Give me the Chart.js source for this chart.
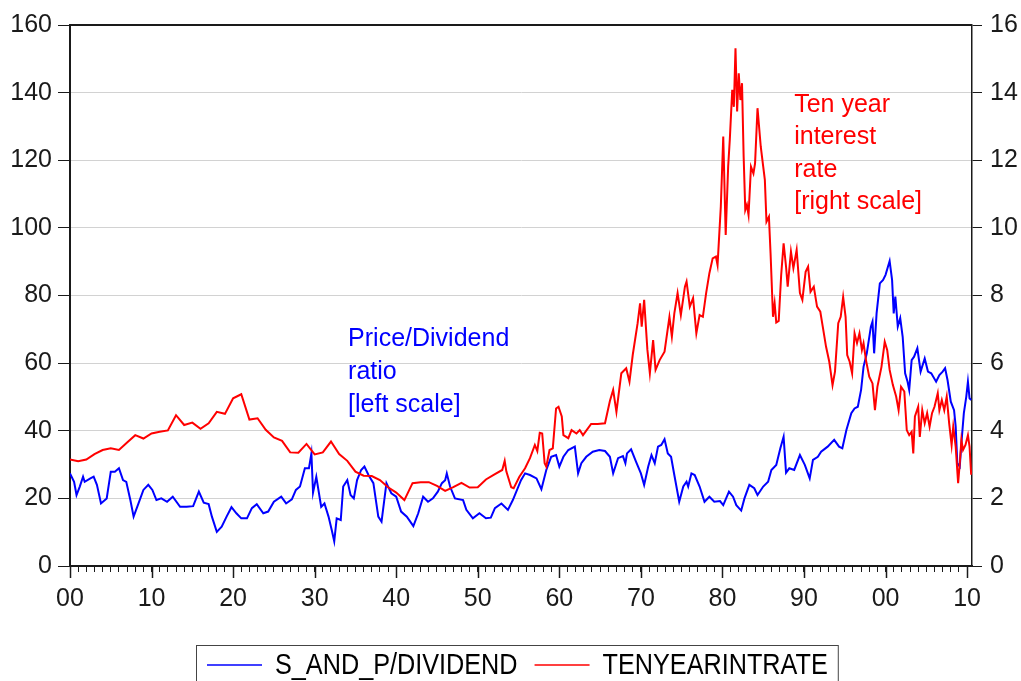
<!DOCTYPE html>
<html>
<head>
<meta charset="utf-8">
<title>S&amp;P price/dividend ratio and ten year interest rate</title>
<script src="https://cdn.jsdelivr.net/npm/chart.js@4.4.1/dist/chart.umd.min.js"></script>
<style>
  html, body { margin: 0; padding: 0; background: #fff; }
  #wrap { width: 1021px; height: 681px; }
</style>
</head>
<body>
<div id="wrap"><canvas id="chart" width="1021" height="681"></canvas></div>
<script>
// S&P price / dividend ratio (left scale), sampled in decimal years
const pdYears = [
  1900.0, 1900.5, 1900.8, 1901.2, 1901.6, 1901.8, 1902.5, 1902.9, 1903.3, 1903.8,
  1904.5, 1905.0, 1905.5, 1906.0, 1906.5, 1906.9, 1907.4, 1907.8, 1908.4, 1909.0,
  1909.6, 1910.1, 1910.6, 1911.2, 1911.9, 1912.6, 1913.5, 1914.3, 1915.1, 1915.8,
  1916.4, 1917.0, 1917.4, 1918.0, 1918.6, 1919.2, 1919.8, 1920.4, 1921.0, 1921.7,
  1922.3, 1922.9, 1923.7, 1924.3, 1925.0, 1925.9, 1926.5, 1927.2, 1927.7, 1928.2,
  1928.8, 1929.3, 1929.6, 1929.8, 1930.2, 1930.8, 1931.2, 1931.7, 1932.1, 1932.4,
  1932.7, 1933.2, 1933.5, 1934.0, 1934.4, 1934.8, 1935.2, 1935.7, 1936.1, 1936.6,
  1937.2, 1937.8, 1938.2, 1938.8, 1939.4, 1940.0, 1940.6, 1941.3, 1942.1, 1942.7,
  1943.3, 1943.9, 1944.5, 1945.1, 1945.6, 1946.0, 1946.2, 1946.6, 1947.2, 1948.2,
  1948.6, 1949.4, 1950.2, 1951.0, 1951.6, 1952.1, 1952.9, 1953.7, 1954.3, 1955.3,
  1955.8, 1956.4, 1957.2, 1957.8, 1958.4, 1959.0, 1959.6, 1960.0, 1960.5, 1961.1,
  1961.9, 1962.3, 1962.7, 1963.3, 1964.1, 1964.9, 1965.6, 1966.2, 1966.6, 1967.2,
  1967.8, 1968.1, 1968.3, 1968.8, 1969.4, 1970.0, 1970.4, 1970.9, 1971.3, 1971.7,
  1972.1, 1972.5, 1972.9, 1973.3, 1973.7, 1974.1, 1974.7, 1975.2, 1975.6, 1975.8,
  1976.2, 1976.6, 1977.2, 1977.8, 1978.4, 1979.0, 1979.7, 1980.1, 1980.8, 1981.3,
  1981.7, 1982.3, 1982.7, 1983.3, 1983.9, 1984.3, 1985.0, 1985.6, 1986.0, 1986.6,
  1987.1, 1987.5, 1987.8, 1988.2, 1988.8, 1989.5, 1990.1, 1990.7, 1991.1, 1991.7,
  1992.1, 1992.9, 1993.7, 1994.3, 1994.7, 1995.2, 1995.8, 1996.2, 1996.6, 1997.0,
  1997.3, 1997.7, 1998.2, 1998.4, 1998.6, 1998.9, 1999.3, 1999.7, 2000.0, 2000.5,
  2000.8, 2001.0, 2001.2, 2001.5, 2001.8, 2002.1, 2002.4, 2002.7, 2002.9, 2003.2,
  2003.5, 2003.9, 2004.3, 2004.8, 2005.2, 2005.6, 2006.2, 2006.6, 2007.0, 2007.3,
  2007.6, 2008.0, 2008.4, 2008.6, 2008.8, 2009.1, 2009.3, 2009.6, 2009.9, 2010.1,
  2010.3, 2010.5
];
const pdValues = [
  27.4, 24.9, 21.0, 23.5, 26.4, 24.9, 25.9, 26.4, 24.0, 18.5,
  20.0, 27.9, 27.9, 28.9, 25.4, 24.9, 19.5, 14.6, 18.5, 22.5,
  24.0, 22.5, 19.5, 20.0, 19.0, 20.5, 17.5, 17.5, 17.7, 22.0,
  18.7, 18.3, 14.6, 10.1, 11.6, 14.6, 17.4, 15.6, 14.1, 14.1,
  17.1, 18.3, 15.6, 16.1, 19.0, 20.5, 18.5, 19.7, 22.5, 23.5,
  28.9, 28.9, 33.3, 21.7, 26.4, 17.5, 18.5, 14.6, 10.6, 7.3,
  14.1, 13.6, 23.5, 25.4, 21.0, 20.0, 25.4, 28.4, 29.4, 26.9,
  24.5, 14.6, 13.1, 24.5, 21.5, 20.5, 16.1, 14.6, 11.8, 15.6,
  20.5, 19.0, 20.0, 22.0, 24.5, 25.4, 27.4, 23.5, 20.0, 19.5,
  16.6, 14.1, 15.6, 14.1, 14.3, 17.1, 18.5, 16.6, 19.5, 25.4,
  27.4, 26.9, 25.9, 22.7, 28.4, 32.3, 32.8, 29.4, 32.3, 34.3,
  35.3, 27.4, 30.4, 32.3, 33.8, 34.3, 34.0, 32.3, 27.4, 31.9,
  32.5, 30.4, 33.3, 34.5, 30.9, 27.4, 24.0, 29.4, 32.8, 30.4,
  35.3, 35.8, 37.5, 33.3, 32.3, 26.9, 19.0, 23.5, 24.9, 23.5,
  27.4, 26.9, 23.5, 19.0, 20.5, 19.0, 19.2, 18.0, 22.0, 20.5,
  18.0, 16.4, 20.0, 24.0, 23.0, 21.0, 23.5, 24.9, 28.4, 29.9,
  34.8, 38.2, 27.6, 28.9, 28.4, 32.8, 29.9, 25.9, 31.4, 32.3,
  33.8, 35.3, 37.3, 35.3, 34.8, 40.2, 45.2, 46.6, 47.1, 52.1,
  58.9, 62.9, 70.8, 72.3, 62.9, 74.7, 83.6, 84.6, 86.1, 90.2,
  84.6, 74.7, 79.7, 70.8, 73.3, 67.8, 57.0, 54.5, 52.1, 60.9,
  61.9, 64.4, 57.5, 61.4, 57.5, 57.0, 54.5, 56.5, 57.5, 58.5,
  55.0, 48.6, 46.1, 41.2, 30.4, 29.4, 36.3, 45.2, 50.1, 54.5,
  49.6, 49.1
];

// Ten year interest rate (right scale): annual to 1953, then finer
const rateYears = [
  1900, 1901, 1902, 1903, 1904, 1905, 1906, 1907, 1908, 1909,
  1910, 1911, 1912, 1913, 1914, 1915, 1916, 1917, 1918, 1919,
  1920, 1921, 1922, 1923, 1924, 1925, 1926, 1927, 1928, 1929,
  1930, 1931, 1932, 1933, 1934, 1935, 1936, 1937, 1938, 1939,
  1940, 1941, 1942, 1943, 1944, 1945, 1946, 1947, 1948, 1949,
  1950, 1951, 1952, 1953.0, 1953.3, 1953.5, 1954.1, 1954.4, 1955.1, 1955.8,
  1956.4, 1957.0, 1957.3, 1957.6, 1957.9, 1958.2, 1958.4, 1958.8, 1959.2, 1959.6,
  1959.9, 1960.3, 1960.5, 1961.1, 1961.5, 1962.1, 1962.5, 1962.9, 1963.9, 1964.7,
  1965.6, 1966.2, 1966.6, 1967.0, 1967.6, 1968.2, 1968.6, 1969.0, 1969.6, 1969.9,
  1970.1, 1970.4, 1970.8, 1971.1, 1971.5, 1971.8, 1972.3, 1972.9, 1973.5, 1973.8,
  1974.1, 1974.5, 1974.9, 1975.4, 1975.6, 1976.0, 1976.4, 1976.8, 1977.2, 1977.6,
  1978.0, 1978.4, 1978.8, 1979.2, 1979.4, 1979.8, 1980.1, 1980.4, 1980.7, 1980.9,
  1981.2, 1981.4, 1981.6, 1981.8, 1982.0, 1982.2, 1982.4, 1982.6, 1982.8, 1983.0,
  1983.2, 1983.5, 1983.8, 1984.0, 1984.3, 1984.7, 1985.0, 1985.2, 1985.4, 1985.7,
  1985.9, 1986.2, 1986.4, 1986.6, 1986.9, 1987.2, 1987.5, 1987.8, 1988.0, 1988.4,
  1988.7, 1989.1, 1989.5, 1989.8, 1990.2, 1990.5, 1990.8, 1991.2, 1991.6, 1992.0,
  1992.3, 1992.7, 1993.1, 1993.5, 1993.8, 1994.2, 1994.5, 1994.8, 1995.1, 1995.3,
  1995.6, 1995.9, 1996.2, 1996.5, 1996.8, 1997.1, 1997.3, 1997.6, 1998.0, 1998.4,
  1998.7, 1999.0, 1999.5, 1999.9, 2000.2, 2000.5, 2000.9, 2001.3, 2001.6, 2001.9,
  2002.3, 2002.6, 2002.9, 2003.2, 2003.4, 2003.6, 2004.0, 2004.2, 2004.5, 2004.8,
  2005.1, 2005.4, 2005.7, 2006.0, 2006.4, 2006.6, 2006.9, 2007.2, 2007.5, 2007.8,
  2008.1, 2008.3, 2008.6, 2008.9, 2009.1, 2009.3, 2009.5, 2009.8, 2010.1, 2010.3,
  2010.5
];
const rateValues = [
  3.15, 3.10, 3.15, 3.31, 3.43, 3.48, 3.43, 3.65, 3.87, 3.77,
  3.92, 3.97, 4.01, 4.46, 4.17, 4.24, 4.06, 4.22, 4.56, 4.50,
  4.96, 5.08, 4.33, 4.37, 4.03, 3.80, 3.70, 3.36, 3.35, 3.61,
  3.30, 3.36, 3.68, 3.31, 3.11, 2.79, 2.67, 2.66, 2.54, 2.33,
  2.17, 1.95, 2.45, 2.48, 2.48, 2.37, 2.22, 2.33, 2.46, 2.32,
  2.33, 2.56, 2.70, 2.84, 3.11, 2.80, 2.33, 2.30, 2.64, 2.89,
  3.19, 3.58, 3.40, 3.94, 3.92, 3.04, 2.94, 3.43, 3.48, 4.66,
  4.71, 4.42, 3.87, 3.78, 4.02, 3.92, 4.02, 3.87, 4.20, 4.20,
  4.22, 4.88, 5.21, 4.56, 5.70, 5.85, 5.45, 6.24, 7.18, 7.77,
  7.08, 7.87, 6.39, 5.70, 6.68, 5.80, 6.09, 6.34, 7.37, 6.78,
  7.47, 8.07, 7.42, 8.26, 8.41, 7.67, 7.92, 6.88, 7.42, 7.37,
  8.07, 8.66, 9.10, 9.15, 8.90, 10.63, 12.70, 9.79, 11.81, 12.60,
  14.08, 13.58, 15.31, 13.44, 14.57, 13.78, 14.28, 12.11, 10.53, 10.68,
  10.38, 11.81, 11.61, 11.91, 13.54, 12.40, 11.81, 11.42, 10.18, 10.33,
  9.25, 7.37, 7.77, 7.20, 7.25, 8.60, 9.54, 8.85, 8.26, 9.30,
  8.81, 9.35, 8.07, 7.87, 8.70, 8.85, 8.11, 8.26, 7.67, 7.52,
  7.08, 6.49, 6.04, 5.35, 5.75, 7.18, 7.37, 7.96, 7.37, 6.24,
  6.04, 5.70, 6.88, 6.59, 6.88, 6.39, 6.59, 6.09, 5.60, 5.40,
  4.61, 5.30, 5.89, 6.63, 6.39, 5.80, 5.35, 5.01, 4.61, 5.30,
  5.16, 4.02, 3.87, 3.97, 3.33, 4.42, 4.71, 3.82, 4.61, 4.22,
  4.52, 4.12, 4.52, 4.71, 5.11, 4.61, 4.91, 4.61, 5.01, 4.22,
  3.58, 4.12, 3.53, 2.45, 3.04, 3.73, 3.43, 3.58, 3.87, 3.53,
  2.70
];

// Axis ticks
const leftTicks = [0, 20, 40, 60, 80, 100, 120, 140, 160];
const rightTicks = [0, 2, 4, 6, 8, 10, 12, 14, 16];
const decadeTicks = [1900, 1910, 1920, 1930, 1940, 1950, 1960, 1970, 1980, 1990, 2000, 2010];
const yearTicks = [];
for (let y = 1900; y <= 2010; y++) yearTicks.push(y);

const seriesNames = ['S_AND_P/DIVIDEND', 'TENYEARINTRATE'];
const pdNote = ['Price/Dividend', 'ratio', '[left scale]'];
const rateNote = ['Ten year', 'interest', 'rate', '[right scale]'];

const AXIS_FONT = { family: '"Liberation Sans", Arial, sans-serif', size: 25 };
const INK = '#1a1a1a';

function toPoints(xs, ys) {
    return xs.map((x, i) => ({ x: x, y: ys[i] }));
}

// Frame, long decade ticks, text notes and the boxed legend
const decorPlugin = {
    id: 'decor',
    afterDraw(chart) {
        const ctx = chart.ctx;
        const area = chart.chartArea;
        const xs = chart.scales.x;
        const yl = chart.scales.y;
        const yr = chart.scales.y1;

        ctx.save();
        // top border of the frame
        ctx.strokeStyle = INK;
        ctx.lineWidth = 2;
        ctx.beginPath();
        ctx.moveTo(area.left - 1, area.top);
        ctx.lineTo(area.right, area.top);
        ctx.stroke();

        // longer ticks at each decade
        ctx.lineWidth = 1.5;
        decadeTicks.forEach(v => {
            const px = Math.round(xs.getPixelForValue(v)) + 0.5;
            ctx.beginPath();
            ctx.moveTo(px, area.bottom);
            ctx.lineTo(px, area.bottom + 12);
            ctx.stroke();
        });

        // series notes
        ctx.font = '25px "Liberation Sans", Arial, sans-serif';
        ctx.textAlign = 'left';
        ctx.textBaseline = 'alphabetic';
        ctx.fillStyle = '#0000ff';
        const px1 = xs.getPixelForValue(1934.1);
        const py1 = yl.getPixelForValue(65.1);
        pdNote.forEach((t, i) => ctx.fillText(t, px1, py1 + i * 33));

        ctx.fillStyle = '#ff0000';
        const px2 = xs.getPixelForValue(1988.8);
        const py2 = yr.getPixelForValue(13.44);
        rateNote.forEach((t, i) => ctx.fillText(t, px2, py2 + i * 32.5));

        // legend box, text squeezed horizontally like a narrow face
        ctx.font = '29px "Liberation Sans", Arial, sans-serif';
        const squeeze = 0.87;
        const colors = chart.data.datasets.map(d => d.borderColor);
        let x = 207;
        const ly = 665;
        const parts = [];
        seriesNames.forEach((name, i) => {
            const w = ctx.measureText(name).width * squeeze;
            parts.push({ x: x, name: name, color: colors[i], w: w });
            x += 55 + 13 + w + 17;
        });
        const boxRight = x - 17 + 10;
        ctx.strokeStyle = '#444';
        ctx.lineWidth = 1;
        ctx.strokeRect(196.5, 645.5, boxRight - 196, 60);

        parts.forEach(p => {
            ctx.strokeStyle = p.color;
            ctx.lineWidth = 1.5;
            ctx.beginPath();
            ctx.moveTo(p.x, ly);
            ctx.lineTo(p.x + 55, ly);
            ctx.stroke();
            ctx.save();
            ctx.translate(p.x + 68, ly + 1);
            ctx.scale(squeeze, 1);
            ctx.fillStyle = '#000';
            ctx.textBaseline = 'middle';
            ctx.fillText(p.name, 0, 0);
            ctx.restore();
        });
        ctx.restore();
    }
};

const ctx = document.getElementById('chart');
new Chart(ctx, {
    type: 'line',
    data: {
        datasets: [
            {
                label: seriesNames[0],
                data: toPoints(pdYears, pdValues),
                yAxisID: 'y',
                borderColor: '#0000ff',
                borderWidth: 2,
                pointRadius: 0,
                tension: 0,
                order: 1
            },
            {
                label: seriesNames[1],
                data: toPoints(rateYears, rateValues),
                yAxisID: 'y1',
                borderColor: '#ff0000',
                borderWidth: 2,
                pointRadius: 0,
                tension: 0,
                order: 0
            }
        ]
    },
    options: {
        responsive: false,
        animation: false,
        layout: { padding: { top: 25, left: 0, right: 0, bottom: 0 } },
        plugins: {
            legend: { display: false },
            tooltip: { enabled: false }
        },
        scales: {
            x: {
                type: 'linear',
                min: 1900,
                max: 2010.6,
                afterBuildTicks: s => { s.ticks = yearTicks.map(v => ({ value: v })); },
                afterFit: s => { s.height = 115; },
                ticks: {
                    autoSkip: false,
                    maxRotation: 0,
                    padding: 12,
                    color: INK,
                    font: AXIS_FONT,
                    callback: v => (v % 10 === 0 ? String(v % 100).padStart(2, '0') : '')
                },
                grid: { drawOnChartArea: false, tickLength: 6, tickColor: INK, tickWidth: 1 },
                border: { color: INK, width: 2 }
            },
            y: {
                position: 'left',
                min: 0,
                max: 160,
                afterBuildTicks: s => { s.ticks = leftTicks.map(v => ({ value: v })); },
                afterFit: s => { s.width = 70; },
                ticks: { padding: 6, color: INK, font: AXIS_FONT },
                grid: { color: '#d2d2d2', lineWidth: 1, tickLength: 12, tickColor: INK },
                border: { color: INK, width: 2 }
            },
            y1: {
                position: 'right',
                min: 0,
                max: 16,
                afterBuildTicks: s => { s.ticks = rightTicks.map(v => ({ value: v })); },
                afterFit: s => { s.width = 49; },
                ticks: { padding: 8, color: INK, font: AXIS_FONT },
                grid: { drawOnChartArea: false, tickLength: 10, tickColor: INK },
                border: { color: INK, width: 1.5 }
            }
        }
    },
    plugins: [decorPlugin]
});
</script>
</body>
</html>
